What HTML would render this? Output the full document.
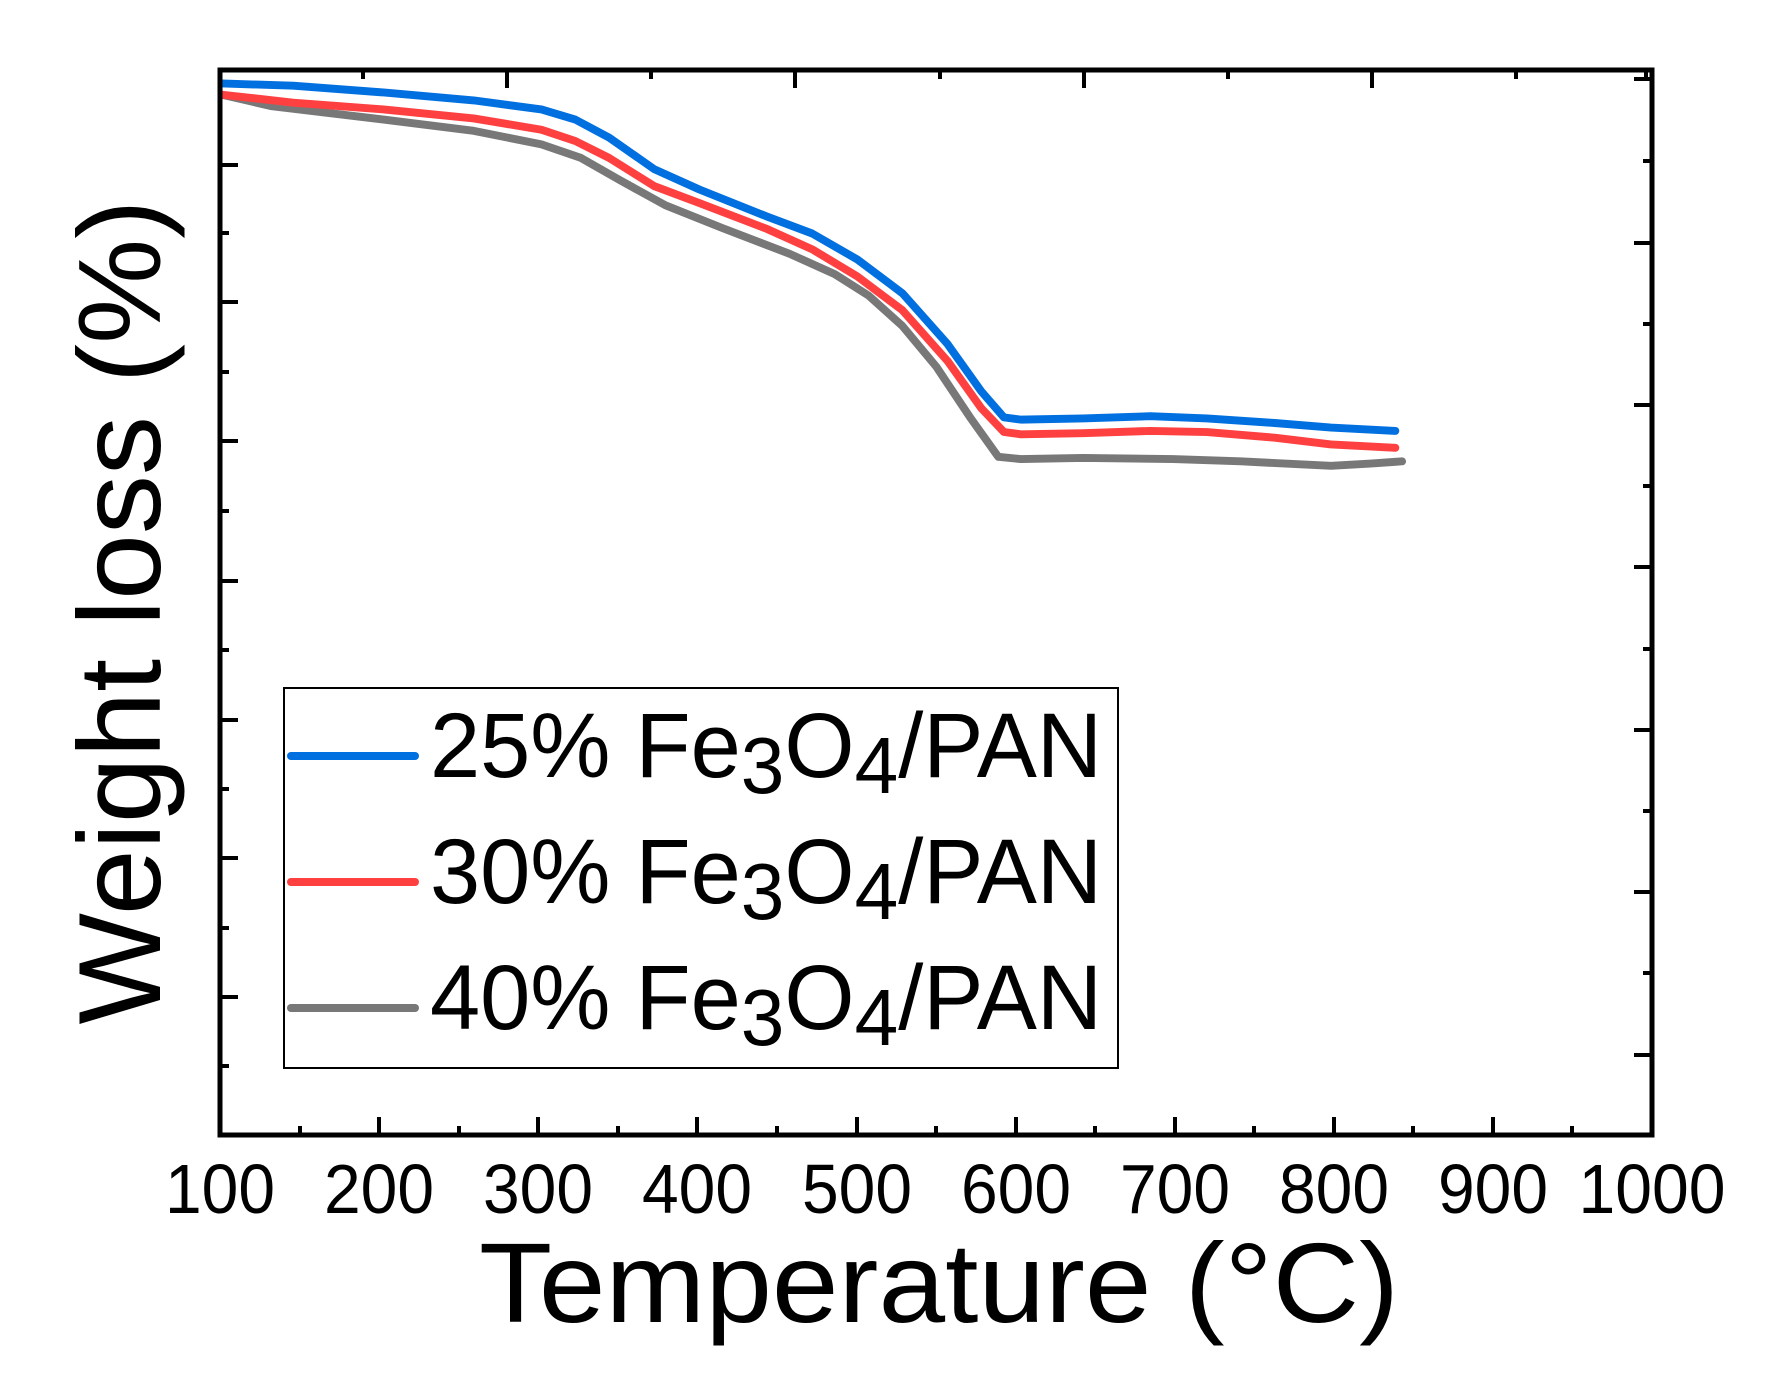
<!DOCTYPE html>
<html><head><meta charset="utf-8"><style>
html,body{margin:0;padding:0;background:#fff;}
svg{display:block;}
text{font-family:"Liberation Sans",Arial,sans-serif;fill:#000;}
</style></head><body>
<svg width="1768" height="1381" viewBox="0 0 1768 1381" xmlns="http://www.w3.org/2000/svg">
<rect width="1768" height="1381" fill="#fff"/>
<g transform="scale(1.128)" fill="none" stroke-width="7" stroke-linejoin="round" stroke-linecap="round">
<polyline stroke="#787878" points="197,84 240,94 340,106 420,116 480,128 515,140 550,160 590,182 640,202 700,225 740,243 770,262 800,289 830,325 860,370 885,405 905,407 960,406 1040,407 1100,409 1180,413 1215,411 1243,409"/>
<polyline stroke="#ff4040" points="197,84 260,91 340,97 420,105 480,115 510,125 540,140 580,165 620,180 680,203 720,221 760,245 800,275 840,320 870,362 890,383 905,385 960,384 1020,382 1070,383 1130,388 1180,394 1237,397"/>
<polyline stroke="#0070e0" points="197,74 260,76 340,82 420,89 480,97 510,106 540,122 580,150 620,168 680,192 720,207 760,230 800,260 840,305 870,347 890,370 905,372 960,371 1020,369 1070,371 1130,375 1180,379 1237,382"/>
</g>
<rect x="220" y="70" width="1432" height="1065" fill="none" stroke="#000" stroke-width="5"/>
<g stroke="#000" stroke-width="4">
<path d="M379,1135v-18M538,1135v-18M697,1135v-18M857,1135v-18M1016,1135v-18M1175,1135v-18M1334,1135v-18M1493,1135v-18"/>
<path d="M300,1135v-9M459,1135v-9M618,1135v-9M777,1135v-9M936,1135v-9M1095,1135v-9M1254,1135v-9M1413,1135v-9M1572,1135v-9"/>
<path d="M507,70v18M795,70v18M1084,70v18M1372,70v18"/>
<path d="M363,70v9M651,70v9M940,70v9M1228,70v9M1516,70v9M1646,70v9"/>
<path d="M220,165h18M220,302h18M220,441h18M220,581h18M220,720h18M220,858h18M220,997h18"/>
<path d="M220,233h9M220,372h9M220,511h9M220,650h9M220,789h9M220,928h9M220,1066h9"/>
<path d="M1652,79h-18M1652,243h-18M1652,405h-18M1652,567h-18M1652,730h-18M1652,892h-18M1652,1055h-18"/>
<path d="M1652,161h-9M1652,324h-9M1652,486h-9M1652,649h-9M1652,811h-9M1652,973h-9"/>
</g>
<g font-size="70" text-anchor="middle">
<text x="220" y="1213" textLength="110" lengthAdjust="spacingAndGlyphs">100</text>
<text x="379" y="1213" textLength="110" lengthAdjust="spacingAndGlyphs">200</text>
<text x="538" y="1213" textLength="110" lengthAdjust="spacingAndGlyphs">300</text>
<text x="697" y="1213" textLength="110" lengthAdjust="spacingAndGlyphs">400</text>
<text x="857" y="1213" textLength="110" lengthAdjust="spacingAndGlyphs">500</text>
<text x="1016" y="1213" textLength="110" lengthAdjust="spacingAndGlyphs">600</text>
<text x="1175" y="1213" textLength="110" lengthAdjust="spacingAndGlyphs">700</text>
<text x="1334" y="1213" textLength="110" lengthAdjust="spacingAndGlyphs">800</text>
<text x="1493" y="1213" textLength="110" lengthAdjust="spacingAndGlyphs">900</text>
<text x="1652" y="1213" textLength="147" lengthAdjust="spacingAndGlyphs">1000</text>
</g>
<text x="939" y="1322" font-size="113" text-anchor="middle" textLength="920" lengthAdjust="spacingAndGlyphs">Temperature (°C)</text>
<text transform="translate(160,612) rotate(-90)" font-size="117" text-anchor="middle" textLength="825" lengthAdjust="spacingAndGlyphs">Weight loss (%)</text>
<rect x="284" y="688" width="834" height="380" fill="#fff" stroke="#000" stroke-width="2"/>
<g stroke-width="8" stroke-linecap="round">
<line x1="291" y1="756" x2="415" y2="756" stroke="#0070e0"/>
<line x1="291" y1="882" x2="415" y2="882" stroke="#ff4040"/>
<line x1="291" y1="1008" x2="415" y2="1008" stroke="#787878"/>
</g>
<g font-size="92">
<text x="430" y="777" textLength="672" lengthAdjust="spacingAndGlyphs">25% Fe<tspan font-size="80" dy="16">3</tspan><tspan dy="-16">O</tspan><tspan font-size="80" dy="16">4</tspan><tspan dy="-16">/PAN</tspan></text>
<text x="430" y="903" textLength="672" lengthAdjust="spacingAndGlyphs">30% Fe<tspan font-size="80" dy="16">3</tspan><tspan dy="-16">O</tspan><tspan font-size="80" dy="16">4</tspan><tspan dy="-16">/PAN</tspan></text>
<text x="430" y="1029" textLength="672" lengthAdjust="spacingAndGlyphs">40% Fe<tspan font-size="80" dy="16">3</tspan><tspan dy="-16">O</tspan><tspan font-size="80" dy="16">4</tspan><tspan dy="-16">/PAN</tspan></text>
</g>
</svg>
</body></html>
